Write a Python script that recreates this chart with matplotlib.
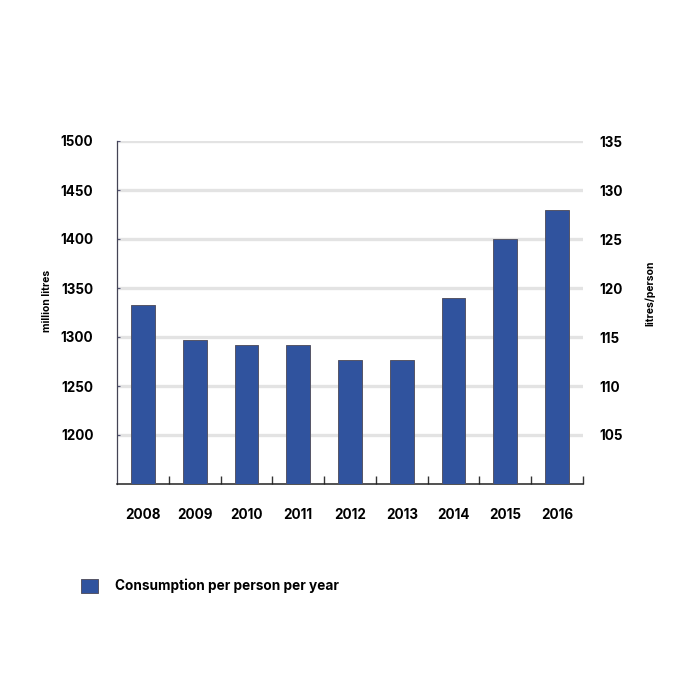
import matplotlib
matplotlib.use("Agg")
import matplotlib.pyplot as plt
import numpy as np
from matplotlib.patches import Patch

# data
years = ["2008", "2009", "2010", "2011", "2012", "2013", "2014", "2015", "2016"]
litres_per_person = [118.3, 114.7, 114.2, 114.2, 112.7, 112.7, 119.0, 125.0, 128.0]
left_ticks = [1200, 1250, 1300, 1350, 1400, 1450, 1500]
right_ticks = [105, 110, 115, 120, 125, 130, 135]

bar_color = "#30539e"
font = "Inter"

fig = plt.figure(figsize=(7, 7), dpi=100)
ax1 = fig.add_axes([117 / 700, 1 - 484 / 700, 466 / 700, 343 / 700])
ax2 = ax1.twinx()

x = np.arange(len(years))

# left axis: million litres, carries the grid
ax1.set_ylim(1150, 1500)
ax1.set_yticks(left_ticks)
ax1.yaxis.grid(True, color="#e3e3e3", linewidth=2.4)
ax1.set_axisbelow(True)
ax1.set_xlim(-0.5, len(years) - 0.5)
ax1.set_xticks(x)
ax1.set_xticklabels(years)
ax1.set_xticks(np.arange(len(years)) + 0.5, minor=True)
ax1.tick_params(axis="x", which="major", length=0, pad=17)
ax1.tick_params(axis="x", which="minor", direction="in", length=6, width=1, color="#333333")
ax1.tick_params(axis="y", direction="in", length=2, width=0.8, color="#555577", pad=17)
for lbl in ax1.get_xticklabels() + ax1.get_yticklabels():
    lbl.set_fontfamily(font)
    lbl.set_fontweight("bold")
    lbl.set_fontsize(9.7)
ax1.spines["top"].set_visible(False)
ax1.spines["right"].set_visible(False)
ax1.spines["left"].set_color("#444455")
ax1.spines["left"].set_linewidth(0.9)
ax1.spines["bottom"].set_color("#222222")
ax1.spines["bottom"].set_linewidth(1.1)

# right axis: litres per person, the bars
ax2.bar(x, litres_per_person, width=0.46, color=bar_color, edgecolor="#555566", linewidth=0.7)
ax2.set_ylim(100, 135)
ax2.set_yticks(right_ticks)
ax2.tick_params(axis="y", length=0, pad=12)
for lbl in ax2.get_yticklabels():
    lbl.set_fontfamily(font)
    lbl.set_fontweight("bold")
    lbl.set_fontsize(9.7)
for s in ["top", "right", "left", "bottom"]:
    ax2.spines[s].set_visible(False)

# axis titles sit a little above the middle in the original
fig.text(47 / 700, 1 - 301 / 700, "million litres", rotation=90, ha="center", va="center",
         fontsize=7.5, fontweight="bold", family=font)
fig.text(650 / 700, 1 - 293 / 700, "litres/person", rotation=90, ha="center", va="center",
         fontsize=7.5, fontweight="bold", family=font)

# legend
handle = Patch(facecolor=bar_color, edgecolor="#555566", linewidth=0.7)
fig.legend([handle], ["Consumption per person per year"], loc="center left",
           bbox_to_anchor=(69 / 700, 1 - 586 / 700), frameon=False,
           prop={"family": font, "weight": "bold", "size": 9.8},
           handlelength=1.2, handleheight=1.2, handletextpad=1.3)

fig.savefig("out.png", dpi=100, facecolor="white")
